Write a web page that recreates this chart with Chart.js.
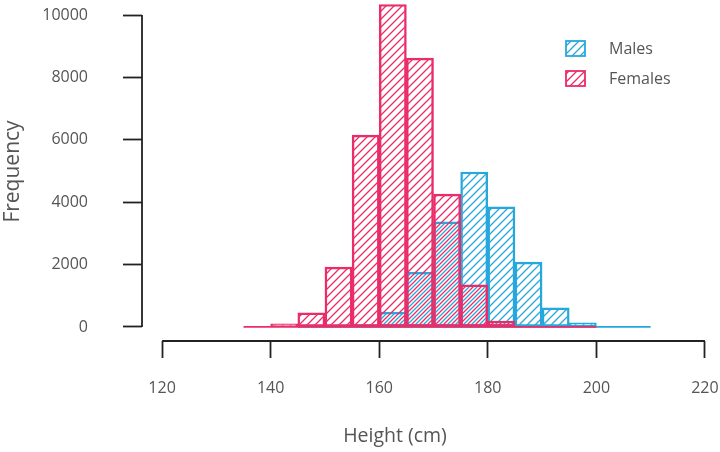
<!DOCTYPE html>
<html><head><meta charset="utf-8">
<script src="https://cdn.jsdelivr.net/npm/chart.js@4.4.1/dist/chart.umd.min.js"></script>
<style>html,body{margin:0;padding:0;background:#fff}#wrap{width:720px;height:452px}</style>
</head><body><div id="wrap"><canvas id="c" width="720" height="452"></canvas></div>
<script>
const binWidth = 5;
const femaleBinStarts = [135,140,145,150,155,160,165,170,175,180,185,190,195];
const femaleCounts    = [0,100,450,1920,6150,10340,8620,4260,1350,190,0,0,0];
const maleBinStarts   = [145,150,155,160,165,170,175,180,185,190,195,200,205];
const maleCounts      = [0,0,80,480,1760,3370,4970,3850,2080,610,130,0,0];
const xTicks = [120,140,160,180,200,220];
const yTicks = [0,2000,4000,6000,8000,10000];
const seriesLabels = ['Males','Females'];
const xTitle = 'Height (cm)';
const yTitle = 'Frequency';
const pink = '#ea2c68';
const blue = '#27a8dc';

const canvas = document.getElementById('c');
const mainCtx = canvas.getContext('2d');
function hatch(color, shift){
  const s = 8;
  const c = document.createElement('canvas'); c.width = s; c.height = s;
  const g = c.getContext('2d');
  g.strokeStyle = color; g.lineWidth = 1.3;
  g.beginPath();
  g.moveTo(0, s); g.lineTo(s, 0);
  g.moveTo(-1, 1); g.lineTo(1, -1);
  g.moveTo(s-1, s+1); g.lineTo(s+1, s-1);
  g.stroke();
  const p = mainCtx.createPattern(c, 'repeat');
  if (shift && p.setTransform) p.setTransform(new DOMMatrix().translate(shift, 0));
  return p;
}
function barData(starts, counts){ return starts.map((s,i)=>({x: s + binWidth/2, y: counts[i]})); }
function baseData(starts){ return [{x: starts[0], y: 0}, {x: starts[starts.length-1] + binWidth, y: 0}]; }

const axesPlugin = {
  id: 'rAxes',
  afterDraw(chart){
    const {ctx, chartArea, scales:{x, y}} = chart;
    ctx.save();
    ctx.strokeStyle = '#222'; ctx.lineWidth = 1.8;
    ctx.beginPath();
    ctx.moveTo(x.getPixelForValue(xTicks[0]), chartArea.bottom);
    ctx.lineTo(x.getPixelForValue(xTicks[xTicks.length-1]), chartArea.bottom);
    ctx.moveTo(chartArea.left, y.getPixelForValue(yTicks[0]));
    ctx.lineTo(chartArea.left, y.getPixelForValue(yTicks[yTicks.length-1]));
    ctx.stroke();
    ctx.fillStyle = '#555'; ctx.font = '19.5px "Open Sans"';
    ctx.textAlign = 'center'; ctx.textBaseline = 'middle';
    ctx.fillText(xTitle, 395, 436);
    ctx.restore();
  }
};
const legendPlugin = {
  id: 'hatchLegend',
  afterDraw(chart){
    const ctx = chart.ctx;
    chart.data.datasets.filter(d => d.type !== 'line').forEach((ds, i) => {
      const bx = 566, by = 41 + i * 30;
      ctx.save();
      ctx.fillStyle = ds.backgroundColor; ctx.fillRect(bx, by, 19, 15);
      ctx.strokeStyle = ds.borderColor; ctx.lineWidth = 1.8; ctx.strokeRect(bx, by, 19, 15);
      ctx.fillStyle = '#555'; ctx.font = '16px "Open Sans"'; ctx.textBaseline = 'middle';
      ctx.fillText(ds.label, 609, by + 8);
      ctx.restore();
    });
  }
};

new Chart(canvas, {
  type: 'bar',
  data: {
    datasets: [
      {label: seriesLabels[0], data: barData(maleBinStarts, maleCounts), backgroundColor: hatch(blue, 4), borderColor: blue, borderWidth: 1.8, borderSkipped: false, grouped: false, barPercentage: 1, categoryPercentage: 1, order: 4},
      {label: seriesLabels[1], data: barData(femaleBinStarts, femaleCounts), backgroundColor: hatch(pink, 0), borderColor: pink, borderWidth: 1.8, borderSkipped: false, grouped: false, barPercentage: 1, categoryPercentage: 1, order: 2},
      {type: 'line', label: 'mb', data: baseData(maleBinStarts), borderColor: blue, borderWidth: 1.8, pointRadius: 0, order: 3},
      {type: 'line', label: 'fb', data: baseData(femaleBinStarts), borderColor: pink, borderWidth: 1.8, pointRadius: 0, order: 1}
    ]
  },
  options: {
    responsive: false, animation: false, devicePixelRatio: 1,
    layout: {padding: {left: 0, right: 8, top: 2, bottom: 0}},
    plugins: {legend: {display: false}, tooltip: {enabled: false}},
    scales: {
      x: {
        type: 'linear', min: 116.3, max: 221.3, offset: false,
        afterBuildTicks: s => { s.ticks = xTicks.map(v => ({value: v})); },
        afterFit: s => { s.height = 111; s.paddingLeft = 0; s.paddingRight = 0; },
        grid: {offset: false, drawOnChartArea: false, drawTicks: true, tickLength: 17, tickWidth: 1.8, tickColor: '#222'},
        border: {display: false},
        ticks: {padding: 21, color: '#555', font: {family: 'Open Sans', size: 16}, maxRotation: 0, autoSkip: false, callback: v => String(v)},
        title: {display: false}
      },
      y: {
        type: 'linear', min: -450, max: 10420,
        afterBuildTicks: s => { s.ticks = yTicks.map(v => ({value: v})); },
        afterFit: s => { s.width = 142; s.paddingTop = 0; s.paddingBottom = 0; },
        grid: {drawOnChartArea: false, drawTicks: true, tickLength: 19, tickWidth: 1.8, tickColor: '#222'},
        border: {display: false},
        ticks: {padding: 35, color: '#555', font: {family: 'Open Sans', size: 16}, callback: v => String(v)},
        title: {display: true, text: yTitle, color: '#555', font: {family: 'Open Sans', size: 21}, padding: {top: 0, bottom: 0}}
      }
    }
  },
  plugins: [axesPlugin, legendPlugin]
});
</script></body></html>
